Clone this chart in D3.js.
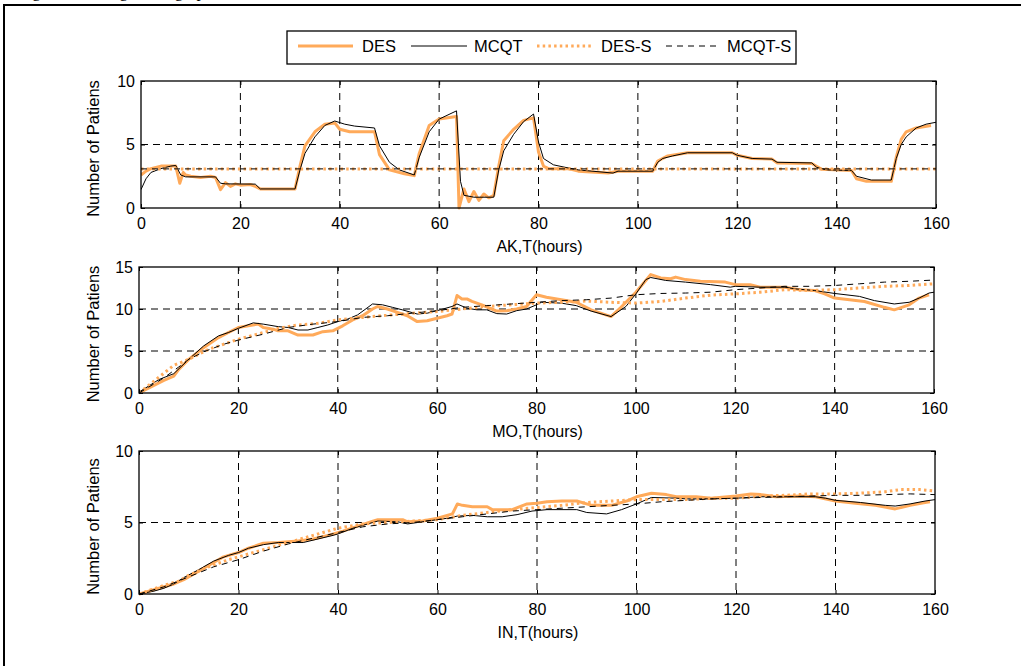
<!DOCTYPE html>
<html><head><meta charset="utf-8">
<script src="https://cdn.jsdelivr.net/npm/d3@7"></script>
<style>body{margin:0;background:#fff}svg{display:block}</style>
</head><body>
<svg id="c" width="1021" height="666"></svg>
<script>
// ---- data ----
const seriesNames = ["DES", "MCQT", "DES-S", "MCQT-S"];
const xTicks = [0, 20, 40, 60, 80, 100, 120, 140, 160];
const panelTitles = ["AK,T(hours)", "MO,T(hours)", "IN,T(hours)"];
const yLabel = "Number of Patiens";
const yTicksAK = [0, 5, 10];
const yTicksMO = [0, 5, 10, 15];
const yTicksIN = [0, 5, 10];

const akDES = [[0,2.6],[1,2.9],[2,3.1],[4,3.3],[7,3.3],[7.8,1.95],[8.5,2.8],[9,2.6],[10,2.5],[12,2.4],[14,2.5],[15,2.4],[16,1.45],[17,2.0],[18,1.7],[19,1.9],[20,1.8],[22,1.85],[23,1.7],[24,1.5],[31,1.5],[32,3.3],[33,4.9],[35,6.0],[37,6.6],[39,6.7],[40,6.2],[42,6.0],[47,6.0],[48,4.2],[50,3.0],[53,2.7],[55,2.55],[56,4.3],[58,6.5],[60,7.0],[63.5,7.2],[64,0.0],[65,1.5],[66,0.5],[67,1.3],[68,0.6],[69,1.1],[70,0.8],[71,1.0],[72,3.3],[73,5.3],[75,6.2],[77,6.9],[79,7.1],[80,4.4],[81,3.3],[82,3.1],[86,3.1],[88,2.9],[94,2.75],[96,2.9],[103,2.9],[104,3.7],[106,4.1],[110,4.35],[119,4.35],[120,4.15],[123,3.9],[127,3.85],[128,3.55],[135,3.5],[137,3.05],[143,2.95],[144,2.3],[146,2.1],[151,2.1],[152,4.0],[153,5.4],[154,6.0],[156,6.3],[159,6.5]];
const akMCQT = [[0,1.45],[1,2.3],[2,2.8],[4,3.1],[6,3.3],[7,3.35],[8,2.6],[9,2.45],[15,2.45],[16,1.95],[17,1.9],[23,1.88],[24,1.5],[31,1.5],[32,3.0],[33,4.3],[35,5.6],[37,6.5],[39,6.85],[41,6.6],[43,6.45],[47,6.3],[48,4.9],[50,3.6],[52,3.0],[55,2.6],[56,4.0],[58,6.0],[60,7.0],[63.5,7.65],[64.3,2.1],[65,1.0],[67,0.85],[71,0.85],[72,3.0],[73,4.5],[75,5.8],[77,6.8],[79,7.4],[80,5.2],[81,3.9],[83,3.4],[86,3.15],[88,3.0],[95,2.75],[96,2.9],[103,2.9],[104,3.6],[105,3.9],[107,4.1],[110,4.35],[119,4.35],[120,4.15],[123,3.9],[127,3.85],[128,3.6],[135,3.55],[136,3.2],[138,3.0],[143,2.95],[144,2.5],[147,2.2],[151,2.2],[152,3.9],[153,5.0],[154,5.6],[156,6.3],[158,6.6],[160,6.75]];
const akDESS = [[0,3.08],[160,3.08]];
const akMCQTS = [[0,3.08],[160,3.08]];

const moDES = [[0,0],[3,0.9],[5,1.5],[7,2.0],[8,2.8],[10,4.0],[13,5.4],[16,6.6],[18,7.2],[20,7.8],[22,8.0],[24,8.2],[25,7.8],[27,7.6],[28,7.4],[30,7.4],[32,6.9],[35,6.9],[37,7.3],[39,7.4],[41,8.0],[43,8.7],[45,9.2],[47,10.0],[48,10.3],[50,10.0],[52,9.6],[54,9.2],[56,8.5],[58,8.6],[60,8.9],[62,9.2],[63,9.4],[64,11.6],[65,11.2],[66,11.2],[67,10.9],[69,10.5],[71,10.0],[72,9.75],[74,9.8],[76,10.0],[78,10.3],[80,11.7],[82,11.4],[85,11.1],[88,10.8],[91,9.9],[95,9.1],[97,10.2],[100,12.0],[102,13.4],[103,14.1],[105,13.7],[107,13.6],[108,13.8],[110,13.5],[113,13.3],[118,13.2],[120,12.9],[123,12.9],[125,12.6],[130,12.6],[133,12.3],[136,12.2],[138,11.8],[140,11.3],[143,11.1],[146,10.9],[150,10.2],[152,9.9],[155,10.5],[157,11.3],[159,11.7]];
const moMCQT = [[0,0.1],[4,1.6],[7,2.3],[10,4.0],[13,5.6],[16,6.8],[18,7.2],[20,7.7],[23,8.35],[25,8.2],[28,7.9],[30,7.8],[32,7.5],[34,7.5],[36,7.8],[38,8.1],[40,8.5],[42,8.8],[44,9.3],[47,10.6],[49,10.5],[51,10.2],[53,9.9],[56,9.4],[58,9.5],[60,9.8],[63,10.3],[64,10.6],[66,10.1],[68,9.9],[70,9.9],[72,9.45],[74,9.4],[76,9.8],[78,10.0],[80,10.5],[81,10.8],[85,10.7],[88,10.4],[91,9.75],[95,9.1],[98,10.3],[100,11.8],[102,13.5],[103,13.75],[106,13.4],[110,13.2],[115,12.9],[119,12.6],[120,12.7],[125,12.6],[130,12.6],[132,12.4],[136,12.2],[140,11.85],[145,11.5],[148,11.0],[152,10.6],[155,10.8],[157,11.3],[159,11.9],[160,12.0]];
const moDESS = [[0,0],[3,1.4],[7,3.3],[10,4.0],[14,5.2],[18,6.0],[20,6.4],[25,7.2],[28,7.7],[32,8.1],[36,8.3],[40,8.7],[45,9.0],[50,9.25],[55,9.5],[60,9.7],[65,10.0],[70,10.3],[75,10.5],[80,10.7],[85,10.8],[90,10.95],[95,10.8],[100,10.7],[105,10.9],[110,11.3],[115,11.65],[120,11.8],[125,12.0],[130,12.3],[135,12.2],[140,12.3],[145,12.5],[150,12.7],[155,12.8],[160,13.0]];
const moMCQTS = [[0,0],[5,1.8],[8,3.1],[10,4.0],[13,4.9],[17,5.8],[20,6.3],[25,7.0],[30,7.8],[35,8.2],[40,8.5],[45,9.0],[50,9.2],[55,9.5],[60,9.8],[65,10.2],[70,10.4],[75,10.6],[80,10.8],[85,11.0],[90,11.1],[95,11.3],[100,11.7],[105,11.85],[110,11.9],[115,12.0],[120,12.3],[125,12.5],[130,12.7],[135,12.7],[140,12.8],[145,13.0],[150,13.2],[155,13.3],[160,13.45]];

const inDES = [[0,0],[4,0.4],[7,0.7],[9,1.0],[12,1.6],[15,2.2],[17,2.6],[20,2.9],[22,3.2],[25,3.55],[28,3.6],[32,3.7],[35,3.85],[38,4.1],[41,4.4],[44,4.75],[47,5.1],[48,5.2],[53,5.2],[54,5.05],[57,5.1],[60,5.3],[63,5.6],[64,6.3],[65,6.2],[67,6.1],[70,6.1],[71,5.9],[75,5.9],[78,6.3],[80,6.35],[82,6.45],[85,6.5],[88,6.5],[91,6.2],[95,6.2],[98,6.5],[100,6.8],[103,7.05],[106,6.95],[108,6.8],[112,6.8],[115,6.7],[120,6.85],[123,7.0],[125,6.95],[128,6.8],[133,6.85],[136,6.8],[140,6.5],[144,6.35],[148,6.2],[152,5.95],[155,6.2],[158,6.4],[159,6.45]];
const inMCQT = [[0,0],[3,0.2],[5,0.4],[7,0.7],[9,1.15],[12,1.7],[15,2.3],[18,2.7],[20,2.9],[22,3.2],[25,3.45],[28,3.6],[33,3.6],[36,3.85],[39,4.1],[40,4.2],[43,4.6],[46,4.9],[48,5.1],[52,5.05],[54,4.9],[56,5.0],[58,5.1],[60,5.2],[62,5.3],[64,5.45],[67,5.5],[70,5.4],[73,5.4],[76,5.55],[79,5.8],[82,5.9],[88,5.9],[90,5.7],[94,5.6],[97,5.9],[100,6.3],[103,6.75],[108,6.7],[110,6.65],[115,6.65],[120,6.7],[125,6.8],[136,6.8],[138,6.7],[140,6.55],[145,6.4],[150,6.2],[152,6.15],[155,6.3],[158,6.5],[160,6.6]];
const inDESS = [[0,0],[5,0.6],[8,0.9],[10,1.3],[14,1.9],[18,2.4],[20,2.6],[25,3.1],[30,3.6],[35,4.1],[40,4.6],[45,4.9],[50,5.0],[55,5.1],[60,5.2],[65,5.5],[70,5.7],[75,5.9],[80,6.05],[85,6.2],[90,6.4],[95,6.5],[100,6.6],[105,6.6],[110,6.6],[115,6.7],[120,6.7],[125,6.85],[130,6.9],[135,7.0],[140,7.0],[145,7.05],[150,7.15],[153,7.3],[157,7.3],[160,7.2]];
const inMCQTS = [[0,0],[5,0.5],[10,1.2],[15,1.9],[20,2.4],[25,3.0],[30,3.5],[35,3.9],[40,4.3],[45,4.7],[50,4.9],[55,5.0],[60,5.2],[65,5.4],[70,5.6],[75,5.8],[80,5.9],[85,6.0],[90,6.1],[95,6.2],[100,6.3],[105,6.45],[110,6.55],[115,6.65],[120,6.7],[125,6.75],[130,6.8],[135,6.85],[140,6.9],[145,6.9],[150,6.95],[155,7.0],[160,6.95]];

// ---- styles ----
const ORANGE = "#FFAA5A";
const styles = [
  {color: ORANGE, width: 3, dash: null},
  {color: "#000", width: 1, dash: null},
  {color: ORANGE, width: 3, dash: "2.5,3.2"},
  {color: "#000", width: 1, dash: "6,5"}
];
const FONT = "'Liberation Sans', Arial, sans-serif";

const svg = d3.select("#c");

// caption fragment (cut off at top in the source) and outer frame
svg.append("text").attr("x", 18).attr("y", -3)
  .attr("font-family", "'Liberation Serif','Times New Roman',serif").attr("font-size", 17)
  .text("Fig. 5 Queueing in the graph");
svg.append("path").attr("d", "M4,670V5H1030").attr("fill", "none").attr("stroke", "#000").attr("stroke-width", 2);

const panels = [
  {left: 141, right: 936, top: 81, bottom: 208, ymax: 10, yticks: yTicksAK, title: panelTitles[0], data: [akDES, akMCQT, akDESS, akMCQTS]},
  {left: 139, right: 934, top: 267, bottom: 393, ymax: 15, yticks: yTicksMO, title: panelTitles[1], data: [moDES, moMCQT, moDESS, moMCQTS]},
  {left: 139, right: 935, top: 451, bottom: 594, ymax: 10, yticks: yTicksIN, title: panelTitles[2], data: [inDES, inMCQT, inDESS, inMCQTS]}
];

panels.forEach((p, i) => {
  const x = d3.scaleLinear().domain([0, 160]).range([p.left, p.right]);
  const y = d3.scaleLinear().domain([0, p.ymax]).range([p.bottom, p.top]);
  const g = svg.append("g");
  const clipId = "clip" + i;
  svg.append("clipPath").attr("id", clipId).append("rect")
    .attr("x", p.left).attr("y", p.top - 2).attr("width", p.right - p.left).attr("height", p.bottom - p.top + 4);

  // grid
  g.append("g").selectAll("line").data(xTicks.filter(t => t > 0 && t < 160)).join("line")
    .attr("x1", d => x(d)).attr("x2", d => x(d)).attr("y1", p.top).attr("y2", p.bottom)
    .attr("stroke", "#000").attr("stroke-width", 1).attr("stroke-dasharray", "7,5");
  g.append("g").selectAll("line").data(p.yticks.filter(t => t > 0 && t < p.ymax)).join("line")
    .attr("x1", p.left).attr("x2", p.right).attr("y1", d => y(d)).attr("y2", d => y(d))
    .attr("stroke", "#000").attr("stroke-width", 1).attr("stroke-dasharray", "7,5");

  // series
  const line = d3.line().x(d => x(d[0])).y(d => y(d[1]));
  const sg = g.append("g").attr("clip-path", `url(#${clipId})`);
  p.data.forEach((ser, k) => {
    const s = styles[k];
    sg.append("path").datum(ser).attr("d", line).attr("fill", "none")
      .attr("stroke", s.color).attr("stroke-width", s.width)
      .attr("stroke-linejoin", "round")
      .attr("stroke-dasharray", s.dash);
  });

  // axes (ticks inside, MATLAB-like)
  const ax = g.append("g").attr("transform", `translate(0,${p.bottom})`)
    .call(d3.axisBottom(x).tickValues(xTicks).tickSizeInner(-4).tickSizeOuter(0).tickPadding(10));
  const ay = g.append("g").attr("transform", `translate(${p.left},0)`)
    .call(d3.axisLeft(y).tickValues(p.yticks).tickSizeInner(-4).tickSizeOuter(0).tickPadding(6));
  g.append("g").attr("transform", `translate(0,${p.top})`)
    .call(d3.axisTop(x).tickValues(xTicks).tickSizeInner(-4).tickSizeOuter(0).tickFormat(""));
  g.append("g").attr("transform", `translate(${p.right},0)`)
    .call(d3.axisRight(y).tickValues(p.yticks).tickSizeInner(-4).tickSizeOuter(0).tickFormat(""));
  g.selectAll(".domain").remove();
  g.selectAll(".tick line").attr("stroke", "#000");
  [ax, ay].forEach(a => a.selectAll("text").attr("font-family", FONT).attr("font-size", 16).attr("fill", "#000"));

  g.append("rect").attr("x", p.left).attr("y", p.top).attr("width", p.right - p.left).attr("height", p.bottom - p.top)
    .attr("fill", "none").attr("stroke", "#000").attr("stroke-width", 1.3);

  // titles
  g.append("text").attr("x", (p.left + p.right) / 2 + 1).attr("y", p.bottom + 44)
    .attr("text-anchor", "middle").attr("font-family", FONT).attr("font-size", 16).text(p.title);
  g.append("text").attr("transform", `translate(99,${(p.top + p.bottom) / 2 + 4}) rotate(-90)`)
    .attr("text-anchor", "middle").attr("font-family", FONT).attr("font-size", 16.5).text(yLabel);
});

// legend
const lg = svg.append("g");
lg.append("rect").attr("x", 287).attr("y", 31).attr("width", 509).attr("height", 33)
  .attr("fill", "#fff").attr("stroke", "#000").attr("stroke-width", 1.3);
const legX = [[298, 353, 362], [411, 467, 474], [537, 591, 601], [666, 720, 727]];
seriesNames.forEach((n, k) => {
  const s = styles[k];
  lg.append("line").attr("x1", legX[k][0]).attr("x2", legX[k][1]).attr("y1", 46).attr("y2", 46)
    .attr("stroke", s.color).attr("stroke-width", s.width).attr("stroke-dasharray", s.dash);
  lg.append("text").attr("x", legX[k][2]).attr("y", 52).attr("font-family", FONT).attr("font-size", 16.5).text(n);
});
</script>
</body></html>
